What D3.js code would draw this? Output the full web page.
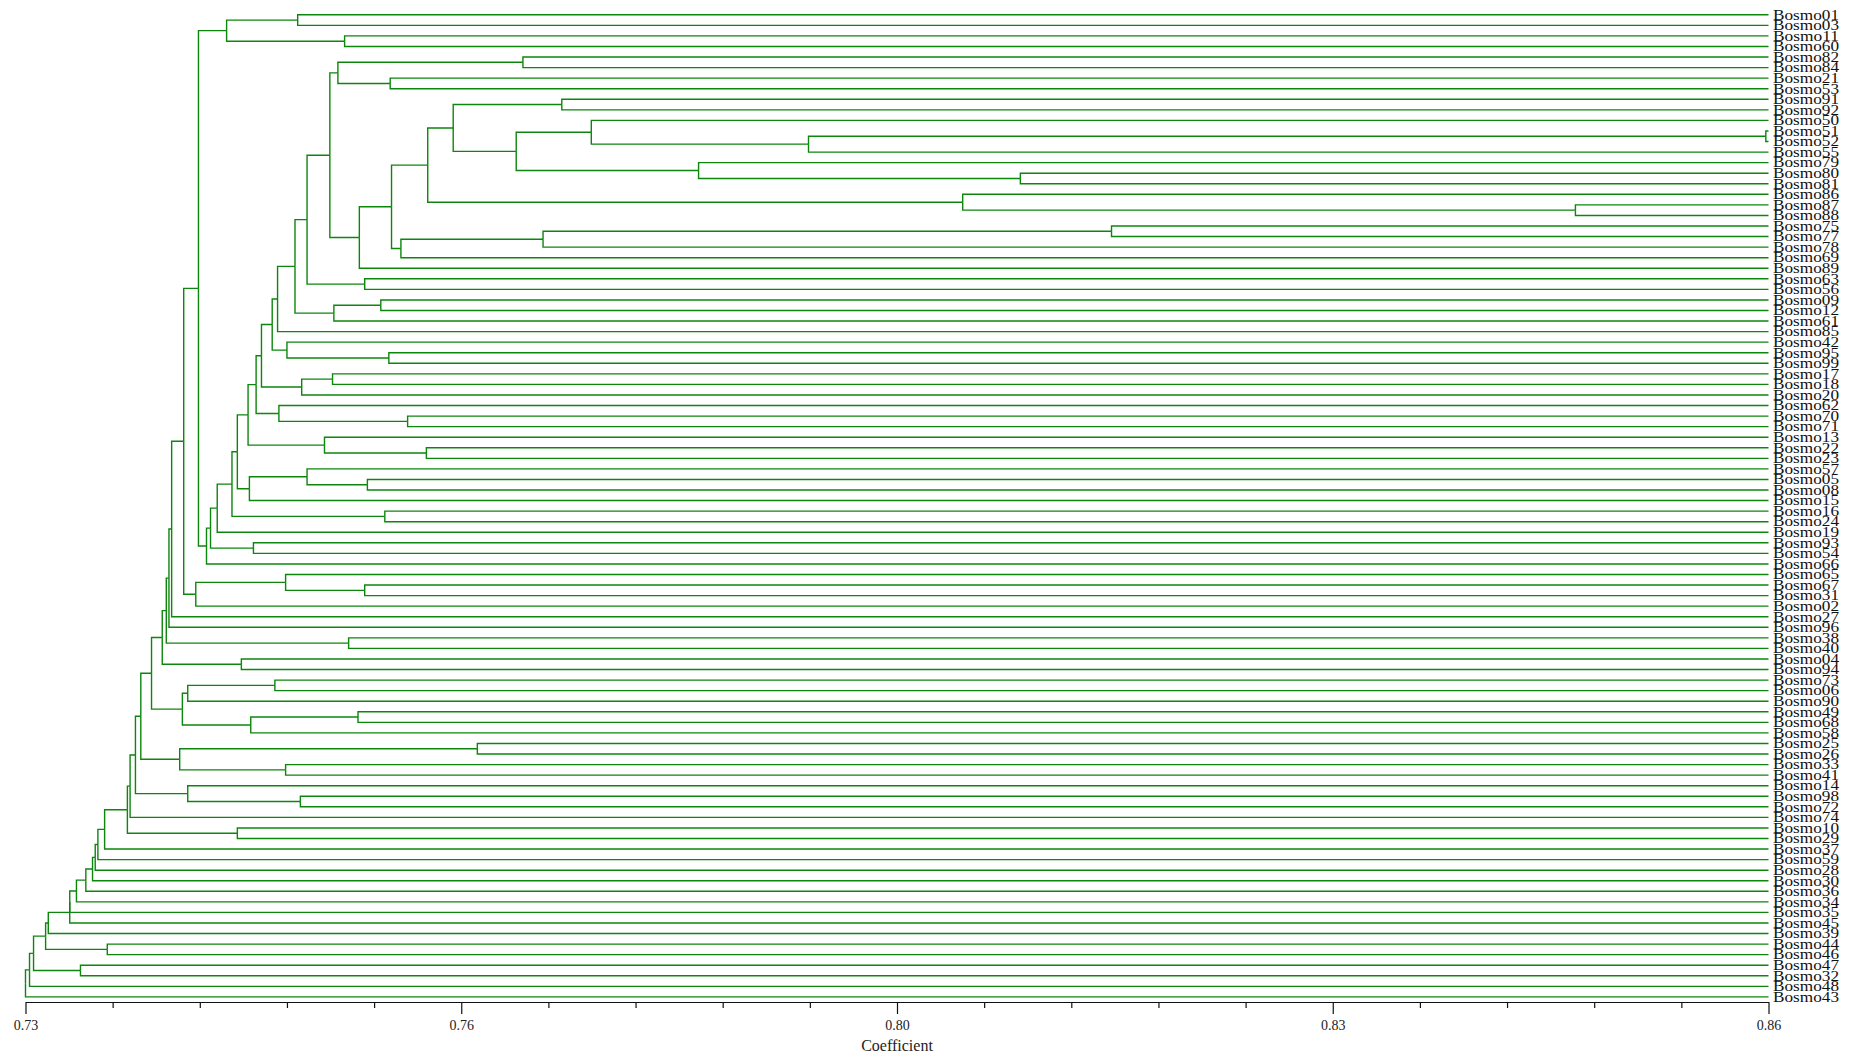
<!DOCTYPE html>
<html>
<head>
<meta charset="utf-8">
<script src="https://cdn.jsdelivr.net/npm/d3@7"></script>
<style>
  html, body { margin: 0; padding: 0; background: #ffffff; }
  svg { display: block; }
</style>
</head>
<body>
<svg id="chart" width="1861" height="1058"></svg>
<script>
// Leaf order, top to bottom
const leaves = [
  "Bosmo01","Bosmo03","Bosmo11","Bosmo60","Bosmo82","Bosmo84","Bosmo21","Bosmo53",
  "Bosmo91","Bosmo92","Bosmo50","Bosmo51","Bosmo52","Bosmo55","Bosmo79","Bosmo80",
  "Bosmo81","Bosmo86","Bosmo87","Bosmo88","Bosmo75","Bosmo77","Bosmo78","Bosmo69",
  "Bosmo89","Bosmo63","Bosmo56","Bosmo09","Bosmo12","Bosmo61","Bosmo85","Bosmo42",
  "Bosmo95","Bosmo99","Bosmo17","Bosmo18","Bosmo20","Bosmo62","Bosmo70","Bosmo71",
  "Bosmo13","Bosmo22","Bosmo23","Bosmo57","Bosmo05","Bosmo08","Bosmo15","Bosmo16",
  "Bosmo24","Bosmo19","Bosmo93","Bosmo54","Bosmo66","Bosmo65","Bosmo67","Bosmo31",
  "Bosmo02","Bosmo27","Bosmo96","Bosmo38","Bosmo40","Bosmo04","Bosmo94","Bosmo73",
  "Bosmo06","Bosmo90","Bosmo49","Bosmo68","Bosmo58","Bosmo25","Bosmo26","Bosmo33",
  "Bosmo41","Bosmo14","Bosmo98","Bosmo72","Bosmo74","Bosmo10","Bosmo29","Bosmo37",
  "Bosmo59","Bosmo28","Bosmo30","Bosmo36","Bosmo34","Bosmo35","Bosmo45","Bosmo39",
  "Bosmo44","Bosmo46","Bosmo47","Bosmo32","Bosmo48","Bosmo43"
];

// Clustering steps: [left, right, coefficient]
// a string is a leaf code ("Bosmo" + code), a number refers to an earlier step
const merges = [
  ["01","03",0.7503], ["11","60",0.7538], [0,1,0.7450],
  ["82","84",0.7671], ["21","53",0.7572], [3,4,0.7533],
  ["91","92",0.7700], ["51","52",0.8598], [7,"55",0.7884],
  ["50",8,0.7722], ["80","81",0.8042], ["79",10,0.7802],
  [9,11,0.7666], [6,12,0.7619], ["87","88",0.8456],
  ["86",14,0.7999], [13,15,0.7600], ["75","77",0.8110],
  [17,"78",0.7686], [18,"69",0.7580], [16,19,0.7573],
  [20,"89",0.7549], [5,21,0.7527], ["63","56",0.7553],
  [22,23,0.7510], ["09","12",0.7565], [25,"61",0.7530],
  [24,26,0.7501], [27,"85",0.7488], ["95","99",0.7571],
  ["42",29,0.7495], [28,30,0.7484], ["17","18",0.7529],
  [32,"20",0.7506], [31,33,0.7476], ["70","71",0.7585],
  ["62",35,0.7489], [34,36,0.7472], ["22","23",0.7599],
  ["13",38,0.7523], [37,39,0.7466], ["05","08",0.7555],
  ["57",41,0.7510], [42,"15",0.7467], [40,43,0.7458],
  ["16","24",0.7568], [44,45,0.7454], [46,"19",0.7443],
  ["93","54",0.7470], [47,48,0.7438], [49,"66",0.7435],
  [2,50,0.7429], ["67","31",0.7553], ["65",52,0.7494],
  [53,"02",0.7427], [51,54,0.7418], [55,"27",0.7409],
  [56,"96",0.7407], ["38","40",0.7541], [57,58,0.7405],
  ["04","94",0.7461], [59,60,0.7402], ["73","06",0.7486],
  [62,"90",0.7421], ["49","68",0.7548], [64,"58",0.7468],
  [63,65,0.7417], [61,66,0.7394], ["25","26",0.7637],
  ["33","41",0.7494], [68,69,0.7415], [67,70,0.7386],
  ["98","72",0.7505], ["14",72,0.7421], [71,73,0.7382],
  [74,"74",0.7378], ["10","29",0.7458], [75,76,0.7376],
  [77,"37",0.7359], [78,"59",0.7354], [79,"28",0.7352],
  [80,"30",0.7350], [81,"36",0.7345], [82,"34",0.7338],
  [83,"35",0.7333], [84,"45",0.7333], [85,"39",0.7317],
  ["44","46",0.7361], [86,87,0.7315], ["47","32",0.7341],
  [88,89,0.7306], [90,"48",0.7303], [91,"43",0.7300]
];

const coefDomain = [0.73, 0.86];
const majorTicks = [0.73, 0.7625, 0.795, 0.8275, 0.86];
const tickLabels = ["0.73", "0.76", "0.80", "0.83", "0.86"];
const minorTicks = d3.range(0, 21).map(k => 0.73 + k * 0.0065).filter((v, k) => k % 5 !== 0);
const axisTitle = "Coefficient";

const lineColor = "#0c860c";
const svg = d3.select("#chart");

const x = d3.scaleLinear().domain(coefDomain).range([25.5, 1768.5]);
const y = d3.scaleLinear().domain([0, leaves.length - 1]).range([14.8, 996.9]);

// nested tree from the merge list
const built = [];
const ref = r => typeof r === "number" ? built[r] : { name: "Bosmo" + r, h: coefDomain[1] };
merges.forEach(([a, b, h]) => built.push({ h, children: [ref(a), ref(b)] }));
const root = d3.hierarchy(built[built.length - 1]);

// positions: leaves by their order, internal nodes at the midpoint of their children
root.eachAfter(n => {
  n.px = x(n.data.h);
  if (n.children) n.py = d3.mean(n.children, c => c.py);
  else n.py = y(leaves.indexOf(n.data.name));
});

svg.append("g")
  .attr("fill", "none")
  .attr("stroke", lineColor)
  .attr("stroke-width", 1.4)
  .selectAll("path")
  .data(root.links())
  .join("path")
  .attr("d", l => `M${l.source.px},${l.source.py}V${l.target.py}H${l.target.px}`);

// leaf labels
svg.append("g")
  .attr("font-family", "'Liberation Serif','Times New Roman',serif")
  .attr("font-size", 14)
  .attr("fill", "#111")
  .selectAll("text")
  .data(root.leaves())
  .join("text")
  .attr("x", 1773)
  .attr("y", d => d.py + 4.8)
  .attr("textLength", 66)
  .attr("lengthAdjust", "spacingAndGlyphs")
  .text(d => d.data.name);

// coefficient axis
const axisY = 1002;
const major = svg.append("g")
  .attr("transform", `translate(0,${axisY})`)
  .call(d3.axisBottom(x).tickValues(majorTicks).tickSize(12).tickSizeOuter(0).tickPadding(6.5)
    .tickFormat((d, i) => tickLabels[i]));
major.selectAll("text")
  .attr("font-family", "'Liberation Serif','Times New Roman',serif")
  .attr("font-size", 14)
  .attr("fill", "#222");
major.selectAll("line, path").attr("stroke", "#111").attr("stroke-width", 1.2);

const minor = svg.append("g")
  .attr("transform", `translate(0,${axisY})`)
  .call(d3.axisBottom(x).tickValues(minorTicks).tickSize(6).tickFormat(""));
minor.select(".domain").remove();
minor.selectAll("line").attr("stroke", "#111").attr("stroke-width", 1.2);

svg.append("text")
  .attr("x", x((coefDomain[0] + coefDomain[1]) / 2))
  .attr("y", 1051)
  .attr("text-anchor", "middle")
  .attr("font-family", "'Liberation Serif','Times New Roman',serif")
  .attr("font-size", 16)
  .attr("fill", "#222")
  .text(axisTitle);
</script>
</body>
</html>
